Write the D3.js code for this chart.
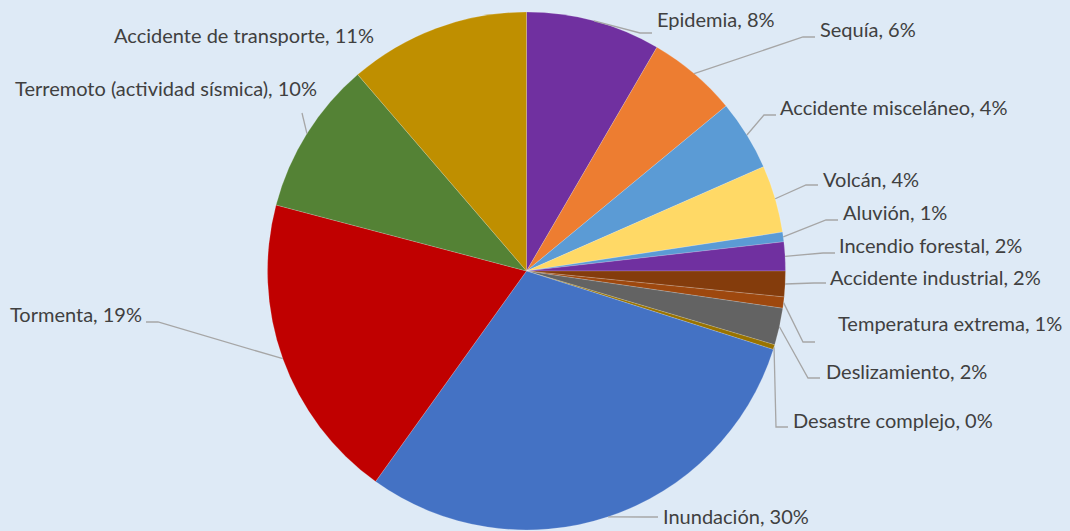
<!DOCTYPE html>
<html>
<head>
<meta charset="utf-8">
<script src="https://cdn.jsdelivr.net/npm/d3@7/dist/d3.min.js"></script>
<style>
  html, body { margin: 0; padding: 0; background: #deeaf6; }
  svg { display: block; }
  .lbl { font-family: Lato, "Open Sans", sans-serif; font-size: 20px; fill: #404040; }
</style>
</head>
<body>
<svg id="chart" width="1070" height="531"></svg>
<script>
// Share of disaster events by type (percent), clockwise from 12 o'clock
const categories = [
  "Epidemia", "Sequía", "Accidente misceláneo", "Volcán", "Aluvión",
  "Incendio forestal", "Accidente industrial", "Temperatura extrema",
  "Deslizamiento", "Desastre complejo", "Inundación", "Tormenta",
  "Terremoto (actividad sísmica)", "Accidente de transporte"
];
const values = [8.4, 5.6, 4.4, 4.2, 0.6, 1.8, 1.6, 0.7, 2.3, 0.3, 30.0, 19.2, 9.6, 11.3];
const colors = [
  "#7030a0", "#ed7d31", "#5b9bd5", "#ffd966", "#5b9bd5",
  "#7030a0", "#843c0c", "#9e480e", "#636363", "#997300",
  "#4472c4", "#c00000", "#548235", "#bf8f00"
];

// Label placement: text anchor point, alignment, and where the leader line ends
const labelLayout = [
  { x: 657, y: 20,  anchor: "start", end: [652, 33],  elbow: true },
  { x: 820, y: 30,  anchor: "start", end: [815, 37],  elbow: true },
  { x: 780, y: 108, anchor: "start", end: [776, 115], elbow: true },
  { x: 823, y: 180, anchor: "start", end: [818, 185], elbow: true },
  { x: 843, y: 213, anchor: "start", end: [838, 220], elbow: true },
  { x: 839, y: 246, anchor: "start", end: [835, 253], elbow: true },
  { x: 830, y: 278, anchor: "start", end: [826, 283], elbow: true },
  { x: 838, y: 324, anchor: "start", end: [815, 342], elbow: true },
  { x: 826, y: 372, anchor: "start", end: [820, 378], elbow: true },
  { x: 793, y: 421, anchor: "start", end: [788, 427], elbow: true },
  { x: 663, y: 517, anchor: "start", end: [658, 517], elbow: true },
  { x: 142, y: 315, anchor: "end",   end: [146, 322], elbow: true },
  { x: 317, y: 89,  anchor: "end",   end: [302, 113], elbow: false },
  { x: 374, y: 36,  anchor: "end",   end: null,       elbow: false }
];

const cx = 526.5, cy = 271, radius = 259;
const total = d3.sum(values);

const svg = d3.select("#chart");
const g = svg.append("g").attr("transform", `translate(${cx},${cy})`);

const pie = d3.pie().sort(null).value(d => d)(values);
const arc = d3.arc().innerRadius(0).outerRadius(radius);
const edge = d3.arc().innerRadius(radius).outerRadius(radius);

g.selectAll("path.slice")
  .data(pie)
  .join("path")
  .attr("class", "slice")
  .attr("d", arc)
  .attr("fill", (d, i) => colors[i])
  .attr("stroke", "#ffffff")
  .attr("stroke-opacity", 0.35)
  .attr("stroke-width", 0.5);

// Leader lines from the slice rim to each label
const line = d3.line();
pie.forEach((d, i) => {
  const L = labelLayout[i];
  if (!L.end) return;
  const [sx, sy] = edge.centroid(d);
  const start = [cx + sx, cy + sy];
  const pts = [start];
  if (L.elbow) {
    const dir = L.anchor === "start" ? -1 : 1;
    pts.push([L.end[0] + dir * 12, L.end[1]]);
  }
  pts.push(L.end);
  svg.append("path")
    .attr("d", line(pts))
    .attr("fill", "none")
    .attr("stroke", "#a6a6a6")
    .attr("stroke-width", 1.3);
});

svg.selectAll("text.lbl")
  .data(pie)
  .join("text")
  .attr("class", "lbl")
  .attr("x", (d, i) => labelLayout[i].x)
  .attr("y", (d, i) => labelLayout[i].y)
  .attr("dy", "0.35em")
  .attr("text-anchor", (d, i) => labelLayout[i].anchor)
  .text((d, i) => `${categories[i]}, ${Math.round(d.data / total * 100)}%`);
</script>
</body>
</html>
